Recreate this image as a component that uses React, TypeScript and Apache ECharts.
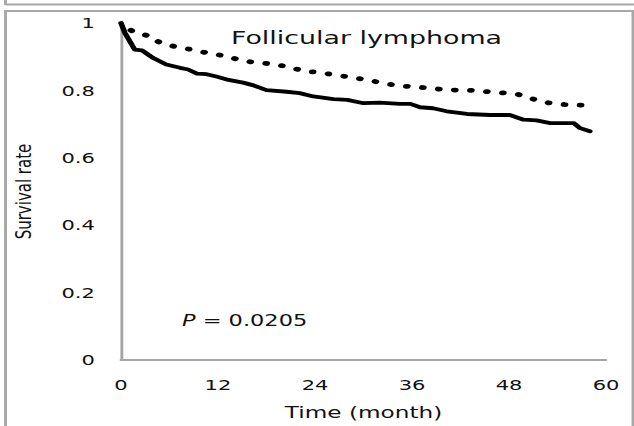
import React, { useEffect, useRef } from "react";
import * as echarts from "echarts";

// Solid line (lower curve)
const solidMonths = [0, 0.5, 1.7, 2.6, 4.0, 5.6, 7.3, 8.3, 9.4, 10.6, 11.8, 13.3, 15.1, 16.4, 18.0, 20.5, 22.1, 23.8, 26.3, 28.0, 30.0, 32.0, 34.5, 35.8, 37.0, 38.6, 40.3, 42.8, 45.7, 48.1, 49.8, 51.4, 53.1, 56.0, 56.8, 58.0];
const solidValues = [1.0, 0.97, 0.921, 0.919, 0.896, 0.877, 0.867, 0.862, 0.85, 0.848, 0.841, 0.831, 0.823, 0.815, 0.801, 0.796, 0.792, 0.782, 0.774, 0.772, 0.762, 0.764, 0.76, 0.76, 0.75, 0.747, 0.738, 0.73, 0.727, 0.727, 0.713, 0.711, 0.703, 0.703, 0.688, 0.679];

// Dotted line (upper curve)
const dottedMonths = [0, 1.5, 3.4, 4.8, 6.8, 8.75, 10.7, 12.7, 14.6, 16.6, 18.6, 20.7, 22.7, 24.6, 26.7, 28.7, 30.7, 32.7, 34.7, 36.7, 38.8, 40.8, 42.9, 44.9, 47.0, 49.0, 50.9, 52.9, 54.9, 57.0];
const dottedValues = [1.0, 0.974, 0.962, 0.942, 0.929, 0.921, 0.911, 0.903, 0.891, 0.882, 0.879, 0.87, 0.857, 0.853, 0.845, 0.838, 0.83, 0.82, 0.813, 0.81, 0.805, 0.801, 0.801, 0.797, 0.793, 0.789, 0.775, 0.763, 0.758, 0.756];

const xTicks = { min: 0, max: 60, interval: 12 };
const yTicks = { min: 0, max: 1, interval: 0.2 };

const titleText = "Follicular lymphoma";
const pText = "{i|P} = 0.0205";
const xName = "Time (month)";
const yName = "Survival rate";

// The reference image is horizontally stretched; the chart is drawn at a
// narrower width and stretched by CSS to reproduce its proportions.
const STRETCH = 1.4508;
const W = 437;
const H = 426;
const FONT = "'DejaVu Sans', sans-serif";
const INK = "#111111";

export default function App() {
  const ref = useRef<HTMLDivElement>(null);
  useEffect(() => {
    if (!ref.current) return;
    const chart = echarts.init(ref.current, null, { renderer: "svg" });
    const solid = solidMonths.map((m, i) => [m, solidValues[i]]);
    const dotted = dottedMonths.map((m, i) => [m, dottedValues[i]]);
    chart.setOption({
      animation: false,
      backgroundColor: "#ffffff",
      grid: { left: 83.4, right: 19.3, top: 23, bottom: 62, containLabel: false },
      xAxis: {
        type: "value",
        min: xTicks.min,
        max: xTicks.max,
        interval: xTicks.interval,
        axisLine: { show: true, lineStyle: { color: "#a6a6a6", width: 2 } },
        axisTick: { show: false },
        splitLine: { show: false },
        axisLabel: { fontFamily: FONT, fontSize: 14.5, color: INK, margin: 17 },
        name: xName,
        nameLocation: "middle",
        nameGap: 45,
        nameTextStyle: { fontFamily: FONT, fontSize: 16, color: INK },
      },
      yAxis: {
        type: "value",
        min: yTicks.min,
        max: yTicks.max,
        interval: yTicks.interval,
        axisLine: { show: true, lineStyle: { color: "#a6a6a6", width: 2 } },
        axisTick: { show: false },
        splitLine: { show: false },
        axisLabel: { fontFamily: FONT, fontSize: 14.5, color: INK, margin: 18 },
        name: yName,
        nameLocation: "middle",
        nameRotate: 90,
        nameGap: 60,
        nameTextStyle: { fontFamily: FONT, fontSize: 15, color: INK },
      },
      series: [
        {
          type: "line",
          data: dotted,
          showSymbol: false,
          symbol: "none",
          lineStyle: { color: "#000000", width: 4.8, type: [0.5, 10.6], cap: "round", dashOffset: 1 },
          z: 2,
        },
        {
          type: "line",
          data: solid,
          showSymbol: false,
          symbol: "none",
          lineStyle: { color: "#000000", width: 3.8, join: "round", cap: "round" },
          z: 3,
        },
      ],
      graphic: [
        { type: "line", shape: { x1: 3.8, y1: 0, x2: 3.8, y2: 5 }, style: { stroke: "#a8a8a8", lineWidth: 2 } },
        { type: "line", shape: { x1: 3.8, y1: 4.5, x2: W, y2: 4.5 }, style: { stroke: "#a8a8a8", lineWidth: 2 } },
        { type: "rect", shape: { x: 3.8, y: 11, width: W - 4.5, height: 500 }, style: { stroke: "#a8a8a8", lineWidth: 2, fill: "none" } },
        {
          type: "text",
          left: 159.2,
          top: 28,
          style: { text: titleText, fontFamily: FONT, fontSize: 18.5, fill: INK },
        },
        {
          type: "text",
          left: 125.4,
          top: 313,
          style: {
            text: pText,
            fontFamily: FONT,
            fontSize: 15.5,
            fill: INK,
            rich: { i: { fontStyle: "italic", fontFamily: FONT, fontSize: 15.5, fill: INK } },
          },
        },
      ],
    });
    return () => chart.dispose();
  }, []);
  return (
    <div
      ref={ref}
      style={{
        position: "absolute",
        left: 0,
        top: 0,
        width: W,
        height: H,
        transform: `scaleX(${STRETCH})`,
        transformOrigin: "0 0",
      }}
    />
  );
}
